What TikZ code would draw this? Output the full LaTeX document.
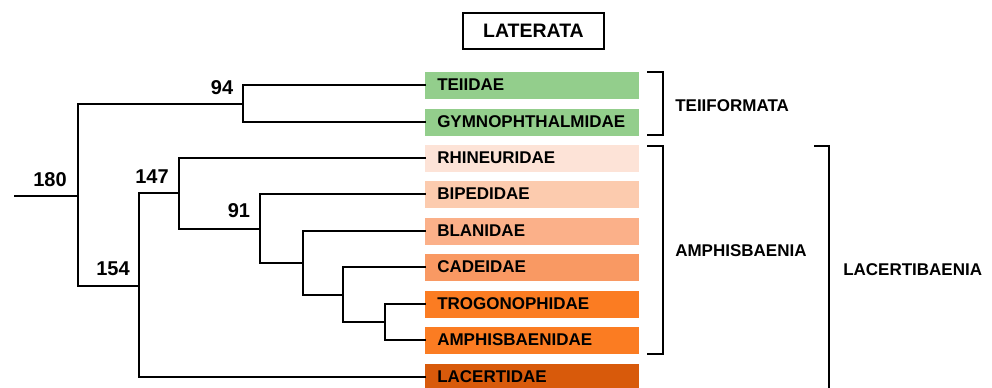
\documentclass[tikz,border=0pt]{standalone}
\usepackage{fontspec}
\setmainfont{Liberation Sans}
\definecolor{cTei}{HTML}{93CE8C}
\definecolor{cRhi}{HTML}{FDE3D7}
\definecolor{cBip}{HTML}{FCCBAE}
\definecolor{cBla}{HTML}{FBB089}
\definecolor{cCad}{HTML}{F99963}
\definecolor{cTro}{HTML}{FB7C22}
\definecolor{cLac}{HTML}{D85A0B}
\begin{document}
\begin{tikzpicture}[x=0.75pt,y=-0.75pt,
  branch/.style={line width=1.1pt, line cap=rect},
  leafbox/.style={anchor=west, inner xsep=9pt, inner ysep=0pt, text width=142.5pt,
     minimum height=20.25pt, align=left, font=\fontsize{12.75}{14}\selectfont\bfseries},
  support/.style={font=\fontsize{15}{17}\selectfont\bfseries, inner sep=0pt},
  clade/.style={anchor=west, inner sep=0pt, font=\fontsize{12.75}{14}\selectfont\bfseries},
  bracket/.style={line width=1.1pt}]
\useasboundingbox (0,0) rectangle (992,387);
\clip (0,0) rectangle (992,387);
% title
\node[draw, line width=0.8pt, minimum width=105.75pt, minimum height=27pt, inner sep=0pt,
  font=\fontsize{14.6}{16}\selectfont\bfseries] (title) at (533.5,31) {LATERATA};
% leaves
\node[leafbox, fill=cTei] (tei) at (425,85) {TEIIDAE};
\node[leafbox, fill=cTei] (gym) at (425,122) {GYMNOPHTHALMIDAE};
\node[leafbox, fill=cRhi] (rhi) at (425,158) {RHINEURIDAE};
\node[leafbox, fill=cBip] (bip) at (425,194) {BIPEDIDAE};
\node[leafbox, fill=cBla] (bla) at (425,231) {BLANIDAE};
\node[leafbox, fill=cCad] (cad) at (425,267) {CADEIDAE};
\node[leafbox, fill=cTro] (tro) at (425,304) {TROGONOPHIDAE};
\node[leafbox, fill=cTro] (amp) at (425,340) {AMPHISBAENIDAE};
\node[leafbox, fill=cLac] (lac) at (425,377) {LACERTIDAE};
% internal nodes
\coordinate (start) at (15,196);
\coordinate (n180) at (78,196);
\coordinate (n94) at (243,104);
\coordinate (n154) at (139,286);
\coordinate (n147) at (179,193);
\coordinate (n91) at (260,229);
\coordinate (nA) at (303,263);
\coordinate (nB) at (343,295);
\coordinate (nC) at (385,322);
% tree
\draw[branch] (start) -- (n180);
\draw[branch] (n94 -| n180) -- (n154 -| n180);
\draw[branch] (n94 -| n180) -- (n94);
\draw[branch] (n154 -| n180) -- (n154);
\draw[branch] (tei.west -| n94) -- (gym.west -| n94);
\draw[branch] (tei.west -| n94) -- (tei.west);
\draw[branch] (gym.west -| n94) -- (gym.west);
\draw[branch] (n147 -| n154) -- (lac.west -| n154);
\draw[branch] (n147 -| n154) -- (n147);
\draw[branch] (lac.west -| n154) -- (lac.west);
\draw[branch] (rhi.west -| n147) -- (n91 -| n147);
\draw[branch] (rhi.west -| n147) -- (rhi.west);
\draw[branch] (n91 -| n147) -- (n91);
\draw[branch] (bip.west -| n91) -- (nA -| n91);
\draw[branch] (bip.west -| n91) -- (bip.west);
\draw[branch] (nA -| n91) -- (nA);
\draw[branch] (bla.west -| nA) -- (nB -| nA);
\draw[branch] (bla.west -| nA) -- (bla.west);
\draw[branch] (nB -| nA) -- (nB);
\draw[branch] (cad.west -| nB) -- (nC -| nB);
\draw[branch] (cad.west -| nB) -- (cad.west);
\draw[branch] (nC -| nB) -- (nC);
\draw[branch] (tro.west -| nC) -- (amp.west -| nC);
\draw[branch] (tro.west -| nC) -- (tro.west);
\draw[branch] (amp.west -| nC) -- (amp.west);
% support values
\node[support] (s180) at (50,180) {180};
\node[support] (s94) at (222,88) {94};
\node[support] (s147) at (152,177) {147};
\node[support] (s154) at (113,269) {154};
\node[support] (s91) at (239,211) {91};
% brackets
\coordinate (b1t) at (663,72);
\coordinate (b1b) at (663,135);
\coordinate (b2t) at (663,146);
\coordinate (b2b) at (663,354);
\coordinate (b3t) at (829,146);
\coordinate (b3b) at (829,400);
\draw[bracket] ([xshift=-12pt]b1t) -- (b1t) -- (b1b) -- ([xshift=-12pt]b1b);
\draw[bracket] ([xshift=-12pt]b2t) -- (b2t) -- (b2b) -- ([xshift=-12pt]b2b);
\draw[bracket] ([xshift=-11.25pt]b3t) -- (b3t) -- (b3b);
\node[clade] (teiif) at (675,106) {TEIIFORMATA};
\node[clade] (amphi) at (675,251) {AMPHISBAENIA};
\node[clade] (lacer) at (843,270) {LACERTIBAENIA};
\end{tikzpicture}
\end{document}
